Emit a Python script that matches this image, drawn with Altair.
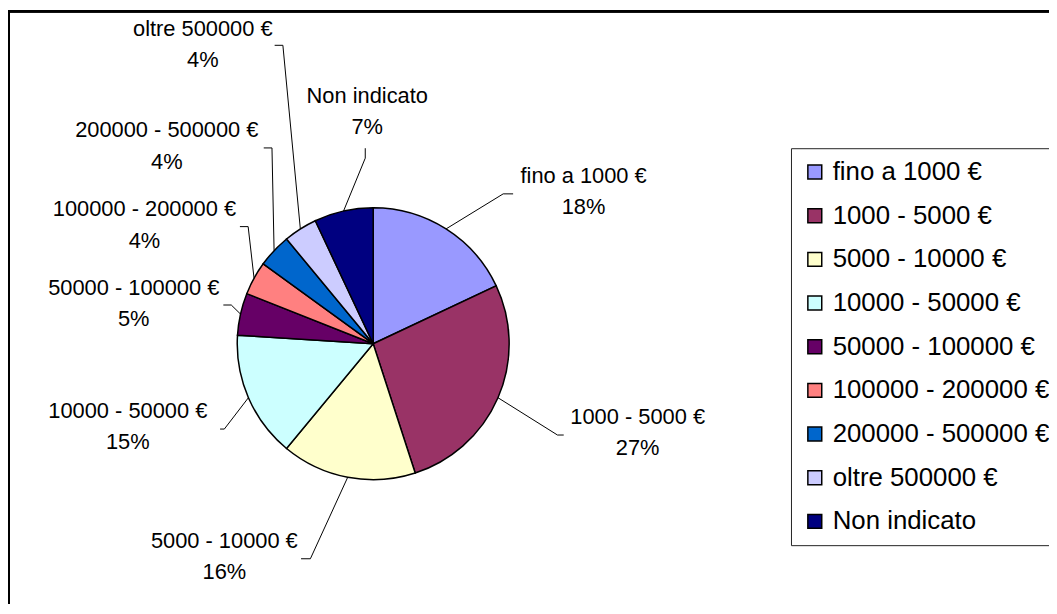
import math
import altair as alt
import pandas as pd

# ---- data ----
categories = [
    "fino a 1000 €", "1000 - 5000 €", "5000 - 10000 €", "10000 - 50000 €",
    "50000 - 100000 €", "100000 - 200000 €", "200000 - 500000 €",
    "oltre 500000 €", "Non indicato",
]
percent = [18, 27, 16, 15, 5, 4, 4, 4, 7]
colors = ["#9999FF", "#993366", "#FFFFCC", "#CCFFFF", "#660066",
          "#FF8080", "#0066CC", "#CCCCFF", "#000080"]

# ---- layout (label placement, chart pixel coords) ----
label_x = [580, 634.5, 218, 120.7, 126.7, 137.5, 160, 196.3, 362]
label_y = [167, 410, 535, 404, 280, 200.7, 121, 19, 86.5]
line_gap = 31.5
end_x = [509, 560, 295.3, 213.7, 217, 233.7, 257.7, 268.7, 360]
end_y = [185, 428, 552.7, 422, 297, 218, 138.7, 35.3, 139]
elbow_x = [499, 553.7, 304.7, 218, 225, 242, 266, 277, 360]
elbow_y = [185, 428, 552.7, 422, 297, 218, 138.7, 35.3, 149]

W, H = 1049, 598
CX, CY, R = 368, 336, 137
FONT = "Liberation Sans"

pie_df = pd.DataFrame({"cat": categories, "pct": percent, "idx": range(len(categories))})

total = sum(percent)
lab_rows, line_rows = [], []
cum = 0
for i, (c, p) in enumerate(zip(categories, percent)):
    mid = (cum + p / 2) / total * 2 * math.pi
    cum += p
    ex, ey = CX + R * math.sin(mid), CY - R * math.cos(mid)
    lab_rows.append({"name": c, "pcttxt": f"{p}%", "x": label_x[i],
                     "y1": label_y[i], "y2": label_y[i] + line_gap})
    for k, (px, py) in enumerate([(end_x[i], end_y[i]), (elbow_x[i], elbow_y[i]), (ex, ey)]):
        line_rows.append({"lab": c, "k": k, "x": px, "y": py})
lab_df = pd.DataFrame(lab_rows)
line_df = pd.DataFrame(line_rows)

pie = alt.Chart(pie_df).mark_arc(outerRadius=R, stroke="black", strokeWidth=1.5).encode(
    theta=alt.Theta("pct:Q", stack=True),
    order=alt.Order("idx:Q"),
    color=alt.Color(
        "cat:N",
        scale=alt.Scale(domain=categories, range=colors),
        legend=alt.Legend(
            title=None, orient="none", legendX=789, legendY=139,
            strokeColor="#222", fillColor="white", padding=11,
            symbolType="square", symbolSize=196, symbolStrokeColor="black",
            symbolStrokeWidth=1.5, symbolOpacity=1,
            labelFont=FONT, labelFontSize=26, labelColor="black",
            labelOffset=5, rowPadding=18, labelLimit=400,
        ),
    ),
    x=alt.value(CX), y=alt.value(CY),
)

leaders = alt.Chart(line_df).mark_line(color="black", strokeWidth=1).encode(
    x=alt.X("x:Q", scale=None), y=alt.Y("y:Q", scale=None),
    detail="lab:N", order="k:Q",
)

name_txt = alt.Chart(lab_df).mark_text(font=FONT, fontSize=22, color="black",
                                        align="center", baseline="middle").encode(
    x=alt.X("x:Q", scale=None), y=alt.Y("y1:Q", scale=None), text="name:N")
pct_txt = alt.Chart(lab_df).mark_text(font=FONT, fontSize=22, color="black",
                                       align="center", baseline="middle").encode(
    x=alt.X("x:Q", scale=None), y=alt.Y("y2:Q", scale=None), text="pcttxt:N")

frame_l = alt.Chart(pie_df).mark_rule(color="black", strokeWidth=2).encode(
    x=alt.value(1), y=alt.value(0), y2=alt.value(H))
frame_t = alt.Chart(pie_df).mark_rule(color="black", strokeWidth=2).encode(
    y=alt.value(1), x=alt.value(0), x2=alt.value(W))

chart = alt.layer(pie, leaders, name_txt, pct_txt, frame_l, frame_t).properties(
    width=W, height=H, autosize=alt.AutoSizeParams(type="none"), padding=0,
    background="white",
).configure_view(stroke=None)

chart.save("out.html", embed_options={"renderer": "svg", "actions": False})
